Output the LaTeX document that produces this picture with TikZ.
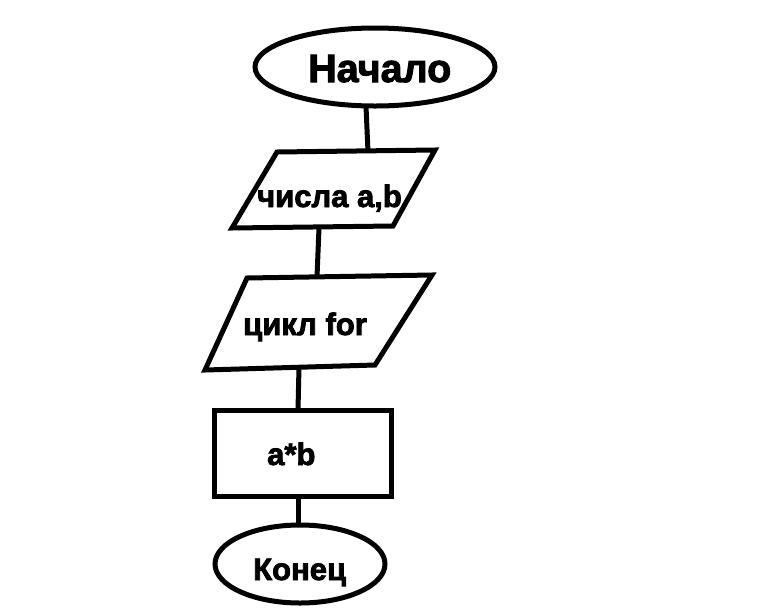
\documentclass[tikz,border=0pt]{standalone}
\usepackage{fontspec}
\setmainfont{Liberation Sans}
\newfontfamily\heavyfont{Liberation Sans Bold}[FakeBold=2.5]
\usetikzlibrary{shapes.geometric}
\begin{document}
\begin{tikzpicture}[x=1pt,y=-1pt,
  outline/.style={draw=black, line width=5pt, line join=miter},
  conn/.style={draw=black, line width=5pt},
  terminal/.style={outline, ellipse, inner sep=0pt},
  procbox/.style={outline, rectangle, inner sep=0pt},
  lbl/.style={anchor=base west, inner sep=0pt, font=\heavyfont\fontsize{31}{31}\selectfont},
  biglbl/.style={lbl, font=\heavyfont\fontsize{39.5}{39.5}\selectfont}]
\useasboundingbox (0,0) rectangle (768,614);
\fill[white] (0,0) rectangle (768,614);

% start terminal
\node[terminal, minimum width=240pt, minimum height=78pt] (start) at (375,67) {};
\node[biglbl] (startlbl) at (308,82) {Начало};

% input parallelogram
\coordinate (p1a) at (277,152);
\coordinate (p1b) at (435,150);
\coordinate (p1c) at (393,226);
\coordinate (p1d) at (232,228);
\draw[outline] (p1a) -- (p1b) -- (p1c) -- (p1d) -- cycle;
\node[lbl] (inlbl) at (257,207) {числа a,b};

% loop parallelogram
\coordinate (p2a) at (247,278);
\coordinate (p2b) at (432,275);
\coordinate (p2c) at (375,365);
\coordinate (p2d) at (205,370);
\draw[outline] (p2a) -- (p2b) -- (p2c) -- (p2d) -- cycle;
\node[lbl] (looplbl) at (243,335) {цикл for};

% process box
\node[procbox, minimum width=177pt, minimum height=86pt] (proc) at (302.5,453) {};
\node[lbl] (proclbl) at (267,465) {a*b};

% end terminal
\node[terminal, minimum width=170pt, minimum height=78pt] (stop) at (300,564) {};
\node[lbl] (stoplbl) at (253,580) {Конец};

% connector end points
\coordinate (c1s) at (366,106);
\coordinate (c1e) at (368,152);
\coordinate (c2s) at (319,228);
\coordinate (c2e) at (317,277);
\coordinate (c3s) at (299,367);
\coordinate (c3e) at (298,410);
\coordinate (c4s) at (298,496);
\coordinate (c4e) at (298,525);

\draw[conn] (c1s) -- (c1e);
\draw[conn] (c2s) -- (c2e);
\draw[conn] (c3s) -- (c3e);
\draw[conn] (c4s) -- (c4e);
\end{tikzpicture}
\end{document}
